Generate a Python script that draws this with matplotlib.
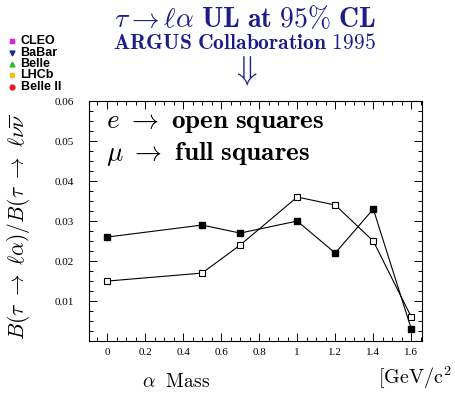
import matplotlib.pyplot as plt
from matplotlib.ticker import MultipleLocator, FixedLocator, FixedFormatter

plt.rcParams['mathtext.fontset'] = 'cm'
plt.rcParams['font.family'] = ['DejaVu Serif']

# alpha mass [GeV/c^2]
mass = [0.0, 0.5, 0.7, 1.0, 1.2, 1.4, 1.6]
# e -> open squares, mu -> full squares
ul_e = [0.015, 0.017, 0.024, 0.036, 0.034, 0.025, 0.006]
ul_mu = [0.026, 0.029, 0.027, 0.030, 0.022, 0.033, 0.003]

x_ticks = [0, 0.2, 0.4, 0.6, 0.8, 1.0, 1.2, 1.4, 1.6]
x_labels = ['0', '0.2', '0.4', '0.6', '0.8', '1', '1.2', '1.4', '1.6']
y_ticks = [0.01, 0.02, 0.03, 0.04, 0.05, 0.06]
y_labels = ['0.01', '0.02', '0.03', '0.04', '0.05', '0.06']

exp_names = ['CLEO', 'BaBar', 'Belle', 'LHCb', 'Belle II']
exp_colors = ['#e020e0', '#1a2a9a', '#30c030', '#f0c020', '#e02020']
exp_markers = ['s', 'v', '^', 's', 'o']

navy = '#1c1c8a'

fig = plt.figure(figsize=(4.56, 3.93), dpi=100)
ax = fig.add_axes([0.195, 0.132, 0.73, 0.611])

ax.plot(mass, ul_mu, color='black', lw=0.8, marker='s', ms=4.5,
        mfc='black', mec='black')
ax.plot(mass, ul_e, color='black', lw=0.8, marker='s', ms=4.5,
        mfc='white', mec='black', mew=0.8)

ax.set_xlim(-0.095, 1.655)
ax.set_ylim(0, 0.06)
ax.xaxis.set_major_locator(FixedLocator(x_ticks))
ax.xaxis.set_major_formatter(FixedFormatter(x_labels))
ax.xaxis.set_minor_locator(MultipleLocator(0.05))
ax.yaxis.set_major_locator(FixedLocator(y_ticks))
ax.yaxis.set_major_formatter(FixedFormatter(y_labels))
ax.yaxis.set_minor_locator(MultipleLocator(0.0025))
ax.tick_params(which='both', direction='in', top=True, right=True, width=0.7)
ax.tick_params(which='major', length=6, labelsize=8)
ax.tick_params(axis='x', which='major', pad=5)
ax.tick_params(axis='y', which='major', pad=11)
ax.tick_params(which='minor', length=3)
for lab in ax.get_xticklabels() + ax.get_yticklabels():
    lab.set_family('Liberation Serif')
for sp in ax.spines.values():
    sp.set_linewidth(0.8)

ax.text(0.05, 0.915, r'$e\ \rightarrow\ \mathbf{open\ squares}$', transform=ax.transAxes,
        fontsize=19.5, va='center', ha='left')
ax.text(0.05, 0.778, r'$\mu\ \rightarrow\ \mathbf{full\ squares}$', transform=ax.transAxes,
        fontsize=19.5, va='center', ha='left')

ax.set_ylabel(r'$B(\tau\ \rightarrow\ \ell\alpha)/B(\tau\ \rightarrow\ \ell\nu\overline{\nu}$',
              fontsize=15.5)
ax.yaxis.set_label_coords(-0.17, 0.475)

fig.text(0.385, 0.005, r'$\alpha\ \ \mathrm{Mass}$', fontsize=14, ha='center', va='bottom')
fig.text(0.828, 0.005, r'$\mathrm{[GeV/c^2}$', fontsize=14.5, ha='left', va='bottom')

# title
fig.text(0.537, 0.952, r'$\tau \rightarrow \ell\alpha\ \mathbf{UL\ at\ 95\%\ CL}$',
         fontsize=20, color=navy, ha='center', va='center')
fig.text(0.537, 0.89, r'$\mathbf{ARGUS\ Collaboration}\ 1995$',
         fontsize=15.5, color=navy, ha='center', va='center')
fig.text(0.537, 0.82, r'$\Downarrow$', fontsize=24, color=navy, ha='center', va='center')

# experiment legend
for i, (name, col, mk) in enumerate(zip(exp_names, exp_colors, exp_markers)):
    y = 0.895 - i * 0.029
    fig.lines.append(plt.Line2D([0.026], [y], transform=fig.transFigure, marker=mk,
                                color=col, ms=3.5, ls='none'))
    fig.text(0.045, y, name, fontsize=9, fontweight='bold', family='Liberation Sans',
             va='center', ha='left')

fig.savefig('out.png', dpi=100)
